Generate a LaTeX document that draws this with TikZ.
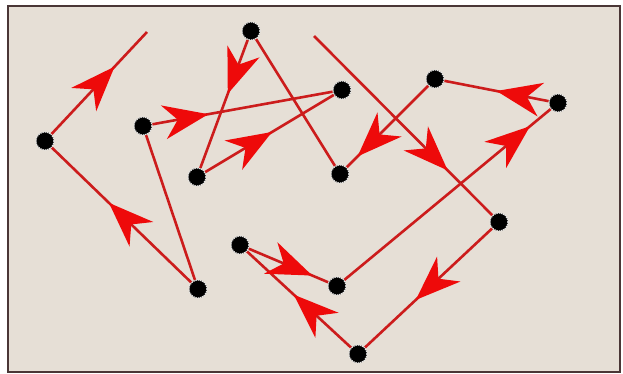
\documentclass[tikz,border=0pt]{standalone}
\usepackage{xcolor}
\usetikzlibrary{arrows.meta,decorations.markings}
\definecolor{paperbeige}{HTML}{E6DFD6}
\definecolor{framebrown}{HTML}{4A3636}
\definecolor{pathred}{HTML}{CC1C1C}
\definecolor{tipred}{HTML}{EE0A0A}

\begin{document}
\begin{tikzpicture}[
  x=1pt, y=-1pt,
  spot/.style={circle, fill=black, draw=white!80!gray, densely dotted, line width=1.2pt, minimum size=18pt, inner sep=0pt},
  leg/.style={draw=pathred, line width=2.6pt},
  midarrow/.style={postaction={decorate}, decoration={markings, mark=at position #1 with {\arrow[tipred]{Stealth[length=45pt, width=34pt, inset=14pt]}}}}
]
  \useasboundingbox (0,0) rectangle (623,374);
  \fill[white] (0,0) rectangle (623,374);
  \draw[draw=framebrown, line width=1.5pt, fill=paperbeige] (8,6) rectangle (620,372);

  % points of the tour
  \node[spot] (p1) at (499,222) {};
  \node[spot] (p2) at (358,354) {};
  \node[spot] (p3) at (240,245) {};
  \node[spot] (p4) at (337,286) {};
  \node[spot] (p5) at (558,103) {};
  \node[spot] (p6) at (435,79) {};
  \node[spot] (p7) at (340,174) {};
  \node[spot] (p8) at (251,31) {};
  \node[spot] (p9) at (197,177) {};
  \node[spot] (p10) at (342,90) {};
  \node[spot] (p11) at (143,126) {};
  \node[spot] (p12) at (198,289) {};
  \node[spot] (p13) at (45,141) {};
  \coordinate (start) at (314,36);
  \coordinate (finish) at (147,32);

  \draw[leg, midarrow=0.75] (start) -- (p1);
  \draw[leg, midarrow=0.60] (p1) -- (p2);
  \draw[leg, midarrow=0.55] (p2) -- (p3);
  \draw[leg, midarrow=0.80] (p3) -- (p4);
  \draw[leg, midarrow=0.90] (p4) -- (p5);
  \draw[leg, midarrow=0.50] (p5) -- (p6);
  \draw[leg, midarrow=0.87] (p6) -- (p7);
  \draw[leg] (p7) -- (p8);
  \draw[leg, midarrow=0.42] (p8) -- (p9);
  \draw[leg, midarrow=0.52] (p9) -- (p10);
  \draw[leg, midarrow=0.31] (p11) -- (p10);
  \draw[leg] (p11) -- (p12);
  \draw[leg, midarrow=0.59] (p12) -- (p13);
  \draw[leg, midarrow=0.66] (p13) -- (finish);
\end{tikzpicture}
\end{document}
